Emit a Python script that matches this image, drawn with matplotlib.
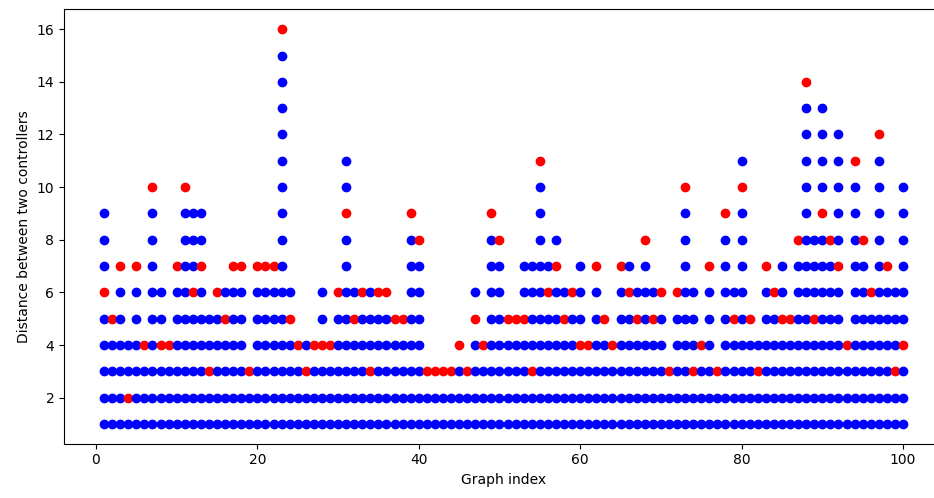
import matplotlib.pyplot as plt

# graph index 1..100
graph_index = list(range(1, 101))

# distance picked for each graph (red)
red_dist = [6, 5, 7, 2, 7, 4, 10, 4, 4, 7,
            10, 6, 7, 3, 6, 5, 7, 7, 3, 7,
            7, 7, 16, 5, 4, 3, 4, 4, 4, 6,
            9, 5, 6, 3, 6, 6, 5, 5, 9, 8,
            3, 3, 3, 3, 4, 3, 5, 4, 9, 8,
            5, 5, 5, 3, 11, 6, 7, 5, 6, 4,
            4, 7, 5, 4, 7, 6, 5, 8, 5, 6,
            3, 6, 10, 3, 4, 7, 3, 9, 5, 10,
            5, 3, 7, 6, 5, 5, 8, 14, 5, 9,
            8, 7, 4, 11, 8, 6, 12, 7, 3, 4]

# all other distances between controllers (blue)
blue_dist = [
    [1, 2, 3, 4, 5, 7, 8, 9], [1, 2, 3, 4], [1, 2, 3, 4, 5, 6], [1, 3, 4], [1, 2, 3, 4, 5, 6],
    [1, 2, 3], [1, 2, 3, 4, 5, 6, 7, 8, 9], [1, 2, 3, 5, 6], [1, 2, 3], [1, 2, 3, 4, 5, 6],
    [1, 2, 3, 4, 5, 6, 7, 8, 9], [1, 2, 3, 4, 5, 7, 8, 9], [1, 2, 3, 4, 5, 6, 8, 9], [1, 2, 4, 5], [1, 2, 3, 4, 5],
    [1, 2, 3, 4, 6], [1, 2, 3, 4, 5, 6], [1, 2, 3, 4, 5, 6], [1, 2], [1, 2, 3, 4, 5, 6],
    [1, 2, 3, 4, 5, 6], [1, 2, 3, 4, 5, 6], list(range(1, 16)), [1, 2, 3, 4, 6], [1, 2, 3],
    [1, 2, 4], [1, 2, 3], [1, 2, 3, 5, 6], [1, 2, 3], [1, 2, 3, 4, 5],
    [1, 2, 3, 4, 5, 6, 7, 8, 10, 11], [1, 2, 3, 4, 6], [1, 2, 3, 4, 5], [1, 2, 4, 5, 6], [1, 2, 3, 4, 5],
    [1, 2, 3, 4, 5], [1, 2, 3, 4], [1, 2, 3, 4], [1, 2, 3, 4, 5, 6, 7, 8], [1, 2, 3, 4, 5, 6, 7],
    [1, 2], [1, 2], [1, 2], [1, 2], [1, 2, 3],
    [1, 2], [1, 2, 3, 4, 6], [1, 2, 3], [1, 2, 3, 4, 5, 6, 7, 8], [1, 2, 3, 4, 5, 6, 7],
    [1, 2, 3, 4], [1, 2, 3, 4], [1, 2, 3, 4, 6, 7], [1, 2, 4, 5, 6, 7], list(range(1, 11)),
    [1, 2, 3, 4, 5, 7], [1, 2, 3, 4, 5, 6, 8], [1, 2, 3, 4, 6], [1, 2, 3, 4, 5], [1, 2, 3, 5, 6, 7],
    [1, 2, 3], [1, 2, 3, 4, 5, 6], [1, 2, 3, 4], [1, 2, 3], [1, 2, 3, 4, 5, 6],
    [1, 2, 3, 4, 5, 7], [1, 2, 3, 4, 6], [1, 2, 3, 4, 5, 6, 7], [1, 2, 3, 4, 6], [1, 2, 3, 4, 5],
    [1, 2], [1, 2, 3, 4, 5], [1, 2, 3, 4, 5, 6, 7, 8, 9], [1, 2, 4, 5, 6], [1, 2, 3],
    [1, 2, 3, 4, 5, 6], [1, 2], [1, 2, 3, 4, 5, 6, 7, 8], [1, 2, 3, 4, 6], [1, 2, 3, 4, 5, 6, 7, 8, 9, 11],
    [1, 2, 3, 4], [1, 2, 4], [1, 2, 3, 4, 5, 6], [1, 2, 3, 4, 5], [1, 2, 3, 4, 6, 7],
    [1, 2, 3, 4], [1, 2, 3, 4, 5, 6, 7], list(range(1, 14)), [1, 2, 3, 4, 6, 7, 8], [1, 2, 3, 4, 5, 6, 7, 8, 10, 11, 12, 13],
    [1, 2, 3, 4, 5, 6, 7], [1, 2, 3, 4, 5, 6, 8, 9, 10, 11, 12], [1, 2, 3], list(range(1, 11)), [1, 2, 3, 4, 5, 6, 7],
    [1, 2, 3, 4, 5], list(range(1, 12)), [1, 2, 3, 4, 5, 6], [1, 2, 4, 5, 6], [1, 2, 3, 5, 6, 7, 8, 9, 10],
]

fig = plt.figure(figsize=(9.34, 4.98), dpi=100)
ax = fig.add_axes([0.0686, 0.109, 0.941, 0.872])

for i, g in enumerate(graph_index):
    ax.scatter([g] * len(blue_dist[i]), blue_dist[i], color='blue')
    ax.scatter(g, red_dist[i], color='red')

ax.set_xlabel('Graph index')
ax.set_ylabel('Distance between two controllers')

plt.savefig('out.png')
